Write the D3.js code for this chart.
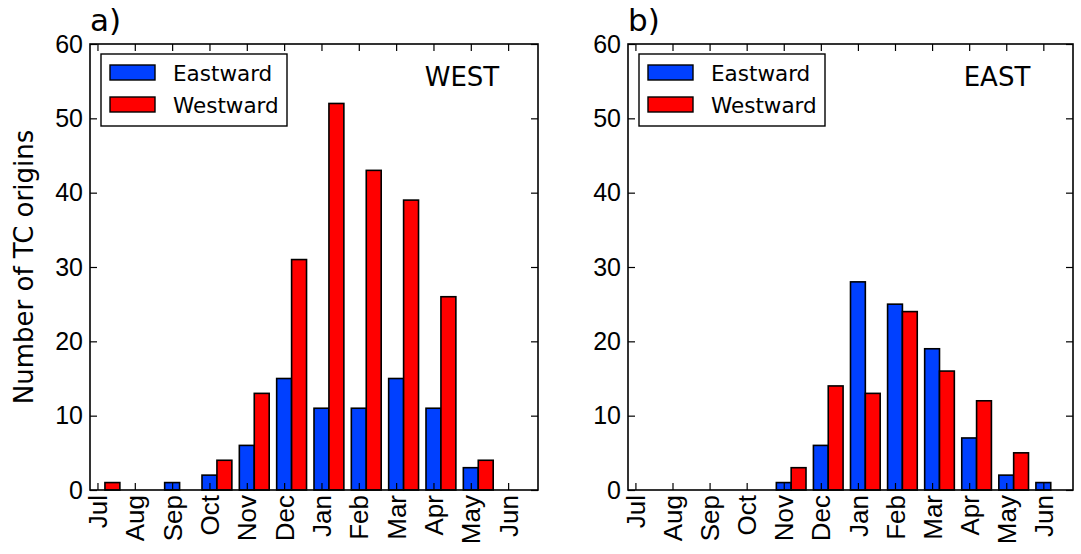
<!DOCTYPE html>
<meta charset="utf-8">
<head>
  <style>
    body { margin: 0; background: #fff; }
    svg { font-family: 'DejaVu Sans', sans-serif; }
    .axis text { font-size: 26px; fill: #000; }
    .axis line { stroke: #000; stroke-width: 1.2px; }
  </style>
</head>
<body>
<svg id="chart" width="1081" height="554"></svg>

<script src="https://d3js.org/d3.v7.min.js"></script>
<script>

// month labels (x ticks), Jul .. Jun
var months = ["Jul", "Aug", "Sep", "Oct", "Nov", "Dec", "Jan", "Feb", "Mar", "Apr", "May", "Jun"];
var yTicks = [0, 10, 20, 30, 40, 50, 60];

// WEST panel
var westEastward = [0, 0, 1, 2, 6, 15, 11, 11, 15, 11, 3, 0];
var westWestward = [1, 0, 0, 4, 13, 31, 52, 43, 39, 26, 4, 0];

// EAST panel
var eastEastward = [0, 0, 0, 0, 1, 6, 28, 25, 19, 7, 2, 1];
var eastWestward = [0, 0, 0, 0, 3, 14, 13, 24, 16, 12, 5, 0];

var colEast = "#0040ff",
    colWest = "#ff0000";

var panels = [
  {letter: "a)", name: "WEST", left: 90, width: 448, east: westEastward, west: westWestward},
  {letter: "b)", name: "EAST", left: 628, width: 445, east: eastEastward, west: eastWestward}
];

var plotTop = 44, plotHeight = 446;
var svg = d3.select("#chart");

svg.append("rect").attr("width", 1081).attr("height", 554).attr("fill", "#fff");

panels.forEach(function(p) {
  var g = svg.append("g").attr("transform", "translate(" + p.left + "," + plotTop + ")");

  var x = d3.scaleLinear().domain([-0.2, 11.8]).range([0, p.width]);
  var y = d3.scaleLinear().domain([0, 60]).range([plotHeight, 0]);

  // bars
  g.selectAll("rect.eb")
      .data(p.east)
    .enter().append("rect")
      .attr("class", "eb")
      .attr("x", function(d, i) { return x(i - 0.2); })
      .attr("width", function(d, i) { return x(i + 0.2) - x(i - 0.2); })
      .attr("y", function(d) { return y(d); })
      .attr("height", function(d) { return plotHeight - y(d); })
      .style("fill", colEast)
      .style("stroke", "#000")
      .style("stroke-width", 1.6);

  g.selectAll("rect.wb")
      .data(p.west)
    .enter().append("rect")
      .attr("class", "wb")
      .attr("x", function(d, i) { return x(i + 0.2); })
      .attr("width", function(d, i) { return x(i + 0.6) - x(i + 0.2); })
      .attr("y", function(d) { return y(d); })
      .attr("height", function(d) { return plotHeight - y(d); })
      .style("fill", colWest)
      .style("stroke", "#000")
      .style("stroke-width", 1.6);

  // axes, ticks pointing inward on all four sides
  var idx = d3.range(months.length);

  g.append("g")
      .attr("class", "axis")
      .call(d3.axisLeft(y).tickValues(yTicks).tickSize(-7).tickPadding(7))
      .call(function(a) { a.select(".domain").remove(); })
    .selectAll("text")
      .style("font-size", "25px");

  g.append("g")
      .attr("class", "axis")
      .attr("transform", "translate(" + p.width + ",0)")
      .call(d3.axisRight(y).tickValues(yTicks).tickSize(-7).tickFormat(""))
      .call(function(a) { a.select(".domain").remove(); });

  g.append("g")
      .attr("class", "axis")
      .call(d3.axisTop(x).tickValues(idx).tickSize(-7).tickFormat(""))
      .call(function(a) { a.select(".domain").remove(); });

  g.append("g")
      .attr("class", "axis")
      .attr("transform", "translate(0," + plotHeight + ")")
      .call(d3.axisBottom(x).tickValues(idx).tickSize(-7).tickFormat(function(d) { return months[d]; }))
      .call(function(a) { a.select(".domain").remove(); })
    .selectAll("text")
      .attr("transform", "rotate(-90)")
      .attr("x", -5)
      .attr("y", 0)
      .attr("dy", "0.35em")
      .style("text-anchor", "end");

  // frame
  g.append("rect")
      .attr("width", p.width)
      .attr("height", plotHeight)
      .style("fill", "none")
      .style("stroke", "#000")
      .style("stroke-width", 1.6);

  // panel letter
  g.append("text")
      .attr("x", 0)
      .attr("y", -13)
      .style("font-size", "31px")
      .text(p.letter);

  // region name
  g.append("text")
      .attr("x", p.width - 76)
      .attr("y", 42)
      .style("font-size", "26px")
      .style("text-anchor", "middle")
      .text(p.name);

  // legend
  var lg = g.append("g").attr("transform", "translate(11,10)");
  lg.append("rect")
      .attr("width", 186)
      .attr("height", 72)
      .style("fill", "#fff")
      .style("stroke", "#000")
      .style("stroke-width", 1.4);
  [["Eastward", colEast], ["Westward", colWest]].forEach(function(e, k) {
    lg.append("rect")
        .attr("x", 9)
        .attr("y", 11 + k * 32)
        .attr("width", 45)
        .attr("height", 15)
        .style("fill", e[1])
        .style("stroke", "#000")
        .style("stroke-width", 1.4);
    lg.append("text")
        .attr("x", 72)
        .attr("y", 27 + k * 32)
        .style("font-size", "21.5px")
        .text(e[0]);
  });
});

// y axis title
svg.append("text")
    .attr("transform", "translate(33," + (plotTop + plotHeight / 2) + ") rotate(-90)")
    .style("font-size", "26px")
    .style("text-anchor", "middle")
    .text("Number of TC origins");

</script>
</body>
